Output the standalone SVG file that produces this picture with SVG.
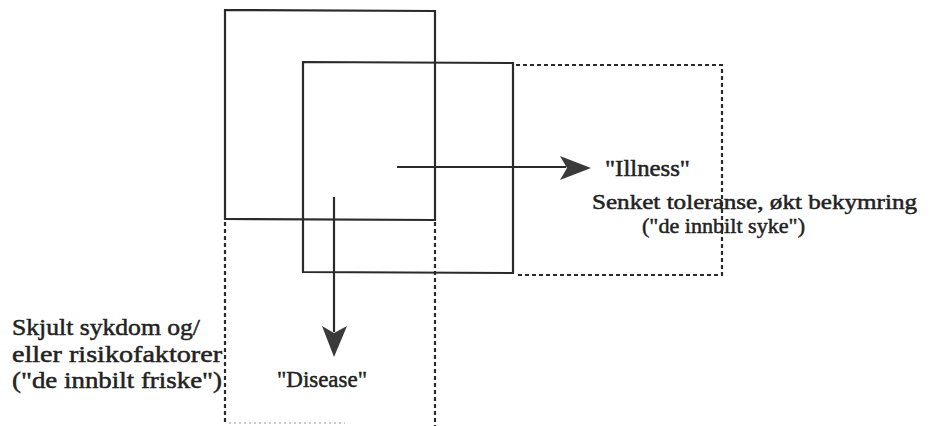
<svg xmlns="http://www.w3.org/2000/svg" width="942" height="426" viewBox="0 0 942 426">
<defs>
<style>
.solid{fill:none;stroke:#2a2a2a;stroke-width:2.2}
.dot{fill:none;stroke:#2a2a2a;stroke-width:2.2;stroke-dasharray:4 3}
.faint{fill:none;stroke:#bbb;stroke-width:1.5;stroke-dasharray:2 3}
.t{font-family:"Liberation Serif","Times New Roman",serif;fill:#222;stroke:#222;stroke-width:0.5}
.head{fill:#3a3a3a}
</style>
</defs>
<rect width="942" height="426" fill="#fff"/>
<g id="disease-box">
<path class="solid" d="M225 10 L435 11 L435 220 L225 219 Z"/>
<path class="dot" d="M225 222 V423 M435 222 V426"/>
<path class="faint" d="M229 423 H345"/>
</g>
<g id="illness-box">
<path class="solid" d="M303 62 L513 63 L513 273 L303 272 Z"/>
<path class="dot" d="M516 65 H722 V275 H516"/>
</g>
<g id="connectors">
<path class="solid" d="M397 167 H566"/>
<path class="head" d="M591 168 L560 156 L567 168 L560 180 Z"/>
<path class="solid" d="M334 197 V332"/>
<path class="head" d="M334 357 L322 326 L334 333 L347 326 Z"/>
</g>
<g id="illness-label">
<text class="t" x="605" y="176" font-size="23" textLength="85" lengthAdjust="spacingAndGlyphs">"Illness"</text>
<text class="t" x="592" y="209" font-size="22" textLength="325" lengthAdjust="spacingAndGlyphs">Senket toleranse, økt bekymring</text>
<text class="t" x="642" y="233" font-size="22" textLength="163" lengthAdjust="spacingAndGlyphs">("de innbilt syke")</text>
</g>
<g id="disease-label">
<text class="t" x="277" y="387" font-size="24" textLength="90" lengthAdjust="spacingAndGlyphs">"Disease"</text>
</g>
<g id="hidden-label">
<text class="t" x="12" y="335" font-size="24" textLength="188" lengthAdjust="spacingAndGlyphs">Skjult sykdom og/</text>
<text class="t" x="12" y="362" font-size="24" textLength="210" lengthAdjust="spacingAndGlyphs">eller risikofaktorer</text>
<text class="t" x="12" y="388" font-size="24" textLength="210" lengthAdjust="spacingAndGlyphs">("de innbilt friske")</text>
</g>
</svg>
